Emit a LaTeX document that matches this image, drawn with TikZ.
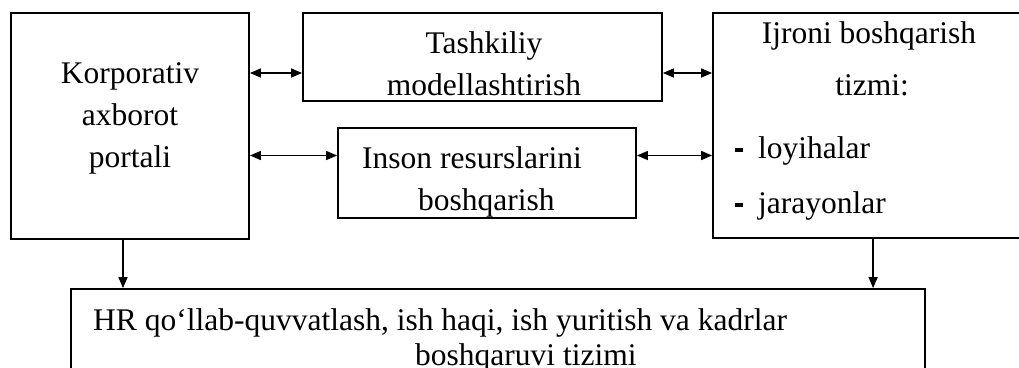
\documentclass[tikz,border=0pt]{standalone}
\usepackage{fontspec}
\setmainfont{Liberation Serif}
\usetikzlibrary{arrows.meta,calc}
\begin{document}
\begin{tikzpicture}[x=1pt,y=-1pt,
  box/.style={draw=black,line width=1.8pt,rectangle,inner sep=0pt},
  txt/.style={inner sep=0pt,font=\fontsize{31.5}{42}\selectfont},
  dbl/.style={line width=1.5pt,{Triangle[length=11pt,width=9pt]}-{Triangle[length=11pt,width=9pt]}},
  arr/.style={line width=1.5pt,-{Triangle[length=11pt,width=9pt]}}]
\clip (0,0) rectangle (1019,367);
% boxes
\node[box,minimum width=238pt,minimum height=226pt] (kap) at (130,126) {};
\node[box,minimum width=359pt,minimum height=88pt] (tash) at (482.5,57) {};
\node[box,minimum width=298pt,minimum height=90pt] (inson) at (487,173) {};
\node[box,minimum width=330pt,minimum height=225pt] (ijro) at (878,125.5) {};
\node[box,minimum width=854pt,minimum height=130pt] (hr) at (498,354) {};
% texts (anchor base = baseline of the last line)
\node[txt,anchor=base,align=center] (kapt) at (130,167) {Korporativ\\axborot\\portali};
\node[txt,anchor=base,align=center] (tasht) at (484,95) {Tashkiliy\\modellashtirish};
\node[txt,anchor=base west,align=left] (insont) at (362,210) {Inson resurslarini\\\hspace*{56pt}boshqarish};
\node[txt,anchor=base] (ijro1) at (869,43) {Ijroni boshqarish};
\node[txt,anchor=base] (ijro2) at (872,95) {tizmi:};
\node[txt,anchor=base west] (ijro3) at (735,158) {\rule[6pt]{8pt}{4pt}\hspace{15pt}loyihalar};
\node[txt,anchor=base west] (ijro4) at (735,213) {\rule[6pt]{8pt}{4pt}\hspace{15pt}jarayonlar};
\node[txt,anchor=base west,align=left,font=\fontsize{31.5}{35}\selectfont] (hrt) at (93,365) {HR qo‘llab-quvvatlash, ish haqi, ish yuritish va kadrlar\\\hspace*{322pt}boshqaruvi tizimi};
% connectors
\coordinate (t1) at ([yshift=-16pt]tash.west);
\coordinate (t2) at ([yshift=-16pt]tash.east);
\coordinate (i1) at ([yshift=17.5pt]inson.west);
\coordinate (i2) at ([yshift=17.5pt]inson.east);
\draw[dbl] (t1 -| kap.east) -- (t1);
\draw[dbl] (t2) -- (t2 -| ijro.west);
\draw[dbl] (i1 -| kap.east) -- (i1);
\draw[dbl] (i2) -- (i2 -| ijro.west);
\coordinate (d1) at ([xshift=-7pt]kap.south);
\coordinate (d2) at ([xshift=161pt]ijro.south west);
\draw[arr] (d1) -- (d1 |- hr.north);
\draw[arr] (d2) -- (d2 |- hr.north);
\end{tikzpicture}
\end{document}
